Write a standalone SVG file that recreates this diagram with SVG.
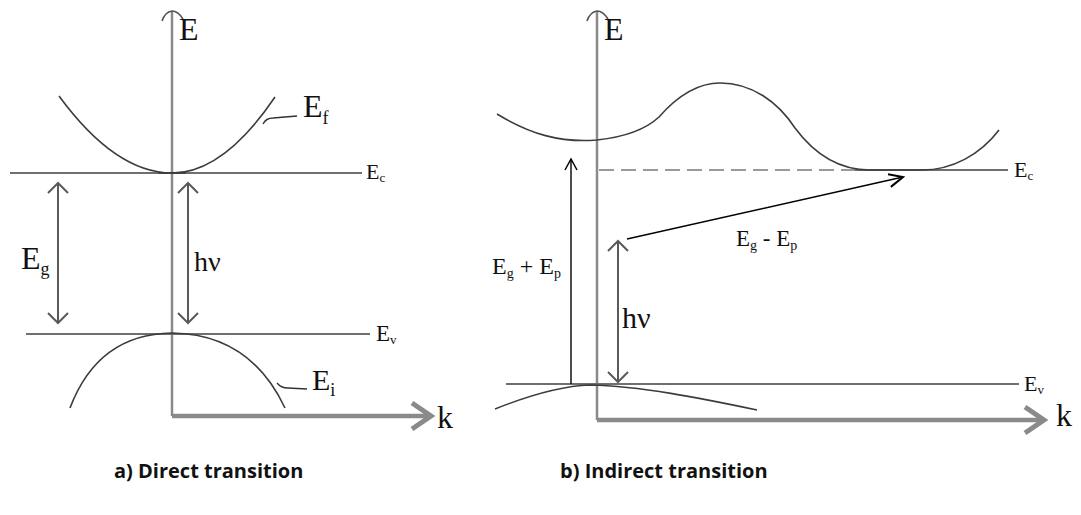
<svg xmlns="http://www.w3.org/2000/svg" width="1081" height="515" viewBox="0 0 1081 515">
<style>
.axis{fill:none;stroke:#8a8a8a;stroke-width:2.5}
.kaxis{fill:none;stroke:#8a8a8a;stroke-width:4.5}
.khead{fill:none;stroke:#8a8a8a;stroke-width:5;stroke-linejoin:miter}
.top{fill:none;stroke:#555;stroke-width:1.6}
.level{fill:none;stroke:#6f6f6f;stroke-width:2}
.band{fill:none;stroke:#3c3c3c;stroke-width:1.6}
.dash{fill:none;stroke:#9a9a9a;stroke-width:2;stroke-dasharray:15 7}
.garrow{fill:none;stroke:#5a5a5a;stroke-width:2}
.barrow{fill:none;stroke:#000;stroke-width:1.4}
.lead{fill:none;stroke:#333;stroke-width:1.3}
.t{font-family:"Liberation Serif","Times New Roman",serif;fill:#111}
.cap{font-family:"Open Sans","DejaVu Sans",sans-serif;font-weight:bold;font-size:20px;fill:#111}
</style>
<defs>
<marker id="gch" markerUnits="userSpaceOnUse" viewBox="-12 -12 14 24" markerWidth="14" markerHeight="24" refX="0" refY="0" orient="auto-start-reverse">
<path d="M-10,-10 L0,0 L-10,10" fill="none" stroke="#5a5a5a" stroke-width="2"/>
</marker>
<marker id="bch" markerUnits="userSpaceOnUse" viewBox="-14 -9 16 18" markerWidth="16" markerHeight="18" refX="0" refY="0" orient="auto-start-reverse">
<path d="M-11,-6 L0,0 L-11,6" fill="none" stroke="#000" stroke-width="1.5"/>
</marker>
<marker id="bch2" markerUnits="userSpaceOnUse" viewBox="-16 -9 18 18" markerWidth="18" markerHeight="18" refX="0" refY="0" orient="auto">
<path d="M-14,-6 L0,0 L-14,7" fill="none" stroke="#000" stroke-width="2"/>
</marker>
</defs>

<g id="panel-a">
<g id="axes-a">
<path class="axis" d="M172,12 V416"/>
<path class="top" d="M162,21 Q165,12 172,11 Q178,11 183,19"/>
<path class="kaxis" d="M172,416 H430"/>
<path class="khead" d="M412,403 L431,416 L412,429"/>
<text class="t" x="179" y="40" font-size="32">E</text>
<text class="t" x="437" y="428" font-size="32">k</text>
</g>
<g id="Ec-a">
<path class="level" d="M10,173 H362"/>
<text class="t" x="366" y="179" font-size="22">E<tspan font-size="13" dy="3">c</tspan></text>
</g>
<g id="Ev-a">
<path class="level" d="M26,334 H370"/>
<text class="t" x="376" y="341" font-size="23">E<tspan font-size="13" dy="3">v</tspan></text>
</g>
<g id="cond-a">
<path class="band" d="M59,96 Q115.5,173 172,173 Q223.5,173 275,97"/>
<path class="band" d="M158,173 H186" stroke-width="3"/>
<path class="lead" d="M263,124 Q266,118 273,118 L297,116"/>
<text class="t" x="303" y="117" font-size="32">E<tspan font-size="18" dy="7">f</tspan></text>
</g>
<g id="val-a">
<path class="band" d="M70,408 Q98,334 172,333 Q250,334 285,408"/>
<path class="lead" d="M277,383 Q281,388 288,388 L307,389"/>
<text class="t" x="312" y="390" font-size="30">E<tspan font-size="18" dy="6">i</tspan></text>
</g>
<g id="Eg-a">
<text class="t" x="21" y="269" font-size="32">E<tspan font-size="18" dy="6">g</tspan></text>
</g>
<g id="hv-a">
<text class="t" x="194" y="271" font-size="28">hν</text>
</g>
</g>

<g id="panel-b">
<g id="axes-b">
<path class="axis" d="M597,12 V420"/>
<path class="top" d="M587,21 Q590,12 597,11 Q603,11 608,19"/>
<path class="kaxis" d="M597,420 H1043"/>
<path class="khead" d="M1025,407 L1044,420 L1025,433"/>
<text class="t" x="604" y="40" font-size="32">E</text>
<text class="t" x="1056" y="426" font-size="32">k</text>
</g>
<g id="Ec-b">
<path class="dash" d="M599,170 H855"/>
<path class="level" d="M855,170 H1008"/>
<text class="t" x="1014" y="177" font-size="22">E<tspan font-size="13" dy="3">c</tspan></text>
</g>
<g id="Ev-b">
<path class="level" d="M506,384 H1019"/>
<text class="t" x="1024" y="391" font-size="22">E<tspan font-size="13" dy="3">v</tspan></text>
</g>
<g id="cond-b">
<path class="band" d="M497,114 C530,134 560,143 597,140 C625,137 645,130 659,117 C680,93 700,83 720,83 C752,83 778,102 795,128 C815,155 840,170 870,170 L922,170 C952,170 980,155 999,130"/>
</g>
<g id="val-b">
<path class="band" d="M495,409 C530,395 560,386 590,385 C640,386 700,398 757,410"/>
</g>
<g id="labels-b">
<text class="t" x="492" y="274" font-size="24">E<tspan font-size="14" dy="4">g</tspan><tspan dy="-4"> + E</tspan><tspan font-size="14" dy="4">p</tspan></text>
<text class="t" x="736" y="246" font-size="23">E<tspan font-size="14" dy="4">g</tspan><tspan dy="-4"> - E</tspan><tspan font-size="14" dy="4">p</tspan></text>
<text class="t" x="622" y="328" font-size="30">hν</text>
</g>
</g>

<g id="connectors">
<path class="garrow" d="M58,183 V323" marker-start="url(#gch)" marker-end="url(#gch)"/>
<path class="garrow" d="M188,183 V323" marker-start="url(#gch)" marker-end="url(#gch)"/>
<path class="garrow" d="M618,241 V382" marker-start="url(#gch)" marker-end="url(#gch)"/>
<path class="barrow" d="M571,384 V159" marker-end="url(#bch)"/>
<path class="barrow" d="M627,239 L903,177" marker-end="url(#bch2)"/>
</g>

<g id="captions">
<text class="cap" x="114" y="478">a) Direct transition</text>
<text class="cap" x="560" y="478">b) Indirect transition</text>
</g>
</svg>
